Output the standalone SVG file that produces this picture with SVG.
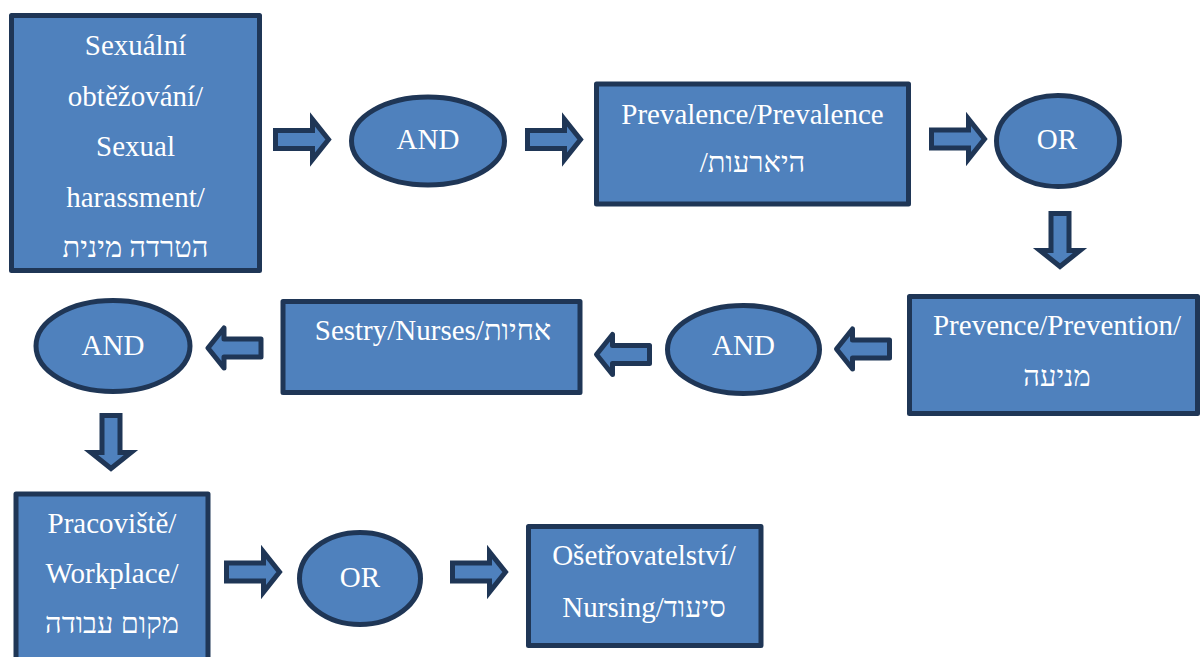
<svg xmlns="http://www.w3.org/2000/svg" width="1200" height="657" viewBox="0 0 1200 657">
<defs>
<style>
.box{fill:#4f81bd;stroke:#1f3656;stroke-width:5;stroke-linejoin:round}
.el{fill:#4f81bd;stroke:#1f3656;stroke-width:5}
.ar{fill:#4f81bd;stroke:#1f3656;stroke-width:5;stroke-linejoin:miter}
.arr{fill:#4f81bd;stroke:#1f3656;stroke-width:5;stroke-linejoin:round}
.t{font-size:29px;fill:#ffffff;text-anchor:middle}
</style>
<path id="arrow" d="M0,-9 H37 V-20 L53,0 L37,20 V9 H0 Z"/>
</defs>
<rect width="1200" height="657" fill="#ffffff"/>

<g id="connectors">
<use href="#arrow" class="ar" transform="translate(275.5,139.5)"/>
<use href="#arrow" class="ar" transform="translate(527.5,139.5)"/>
<use href="#arrow" class="ar" transform="translate(931.5,139)"/>
<use href="#arrow" class="ar" transform="translate(1060,213.5) rotate(90)"/>
<use href="#arrow" class="arr" transform="translate(889.5,349) rotate(180)"/>
<use href="#arrow" class="arr" transform="translate(649.5,354.5) rotate(180)"/>
<use href="#arrow" class="arr" transform="translate(261,348) rotate(180)"/>
<use href="#arrow" class="ar" transform="translate(111,415.5) rotate(90)"/>
<use href="#arrow" class="ar" transform="translate(226.5,572)"/>
<use href="#arrow" class="ar" transform="translate(452.5,572)"/>
</g>

<g font-family="'Liberation Serif', 'DejaVu Serif', serif" class="t">
<g id="n1">
<rect class="box" x="11.5" y="15.5" width="248" height="255"/>
<text x="135.5" y="55">Sexuální</text>
<text x="135.5" y="106">obtěžování/</text>
<text x="135.5" y="156">Sexual</text>
<text x="135.5" y="207">harassment/</text>
<text x="135.5" y="257">הטרדה מינית</text>
</g>

<g id="n2">
<ellipse class="el" cx="428" cy="141" rx="76.5" ry="44"/>
<text x="428" y="148.5">AND</text>
</g>

<g id="n3">
<rect class="box" x="596.5" y="84" width="312" height="120"/>
<text x="752.5" y="124">Prevalence/Prevalence</text>
<text x="752.5" y="172">/היארעות</text>
</g>

<g id="n4">
<ellipse class="el" cx="1058" cy="141" rx="61.5" ry="45.5"/>
<text x="1057" y="148.5">OR</text>
</g>

<g id="n5">
<rect class="box" x="909.5" y="296.5" width="288" height="117"/>
<text x="1057" y="335">Prevence/Prevention/</text>
<text x="1057" y="386">מניעה</text>
</g>

<g id="n6">
<ellipse class="el" cx="743.5" cy="349.5" rx="76" ry="44"/>
<text x="743.5" y="355">AND</text>
</g>

<g id="n7">
<rect class="box" x="283" y="301.5" width="297" height="91"/>
<text x="433" y="340">Sestry/Nurses/אחיות</text>
</g>

<g id="n8">
<ellipse class="el" cx="113" cy="346" rx="77" ry="45.5"/>
<text x="113" y="355">AND</text>
</g>

<g id="n9">
<rect class="box" x="16" y="494" width="192" height="175"/>
<text x="112" y="533">Pracoviště/</text>
<text x="112" y="583">Workplace/</text>
<text x="112" y="633">מקום עבודה</text>
</g>

<g id="n10">
<ellipse class="el" cx="360" cy="578.5" rx="60.5" ry="46"/>
<text x="360" y="587">OR</text>
</g>

<g id="n11">
<rect class="box" x="528.5" y="526.5" width="232.5" height="119"/>
<text x="644" y="565">Ošetřovatelství/</text>
<text x="644" y="617">Nursing/סיעוד</text>
</g>
</g>
</svg>
